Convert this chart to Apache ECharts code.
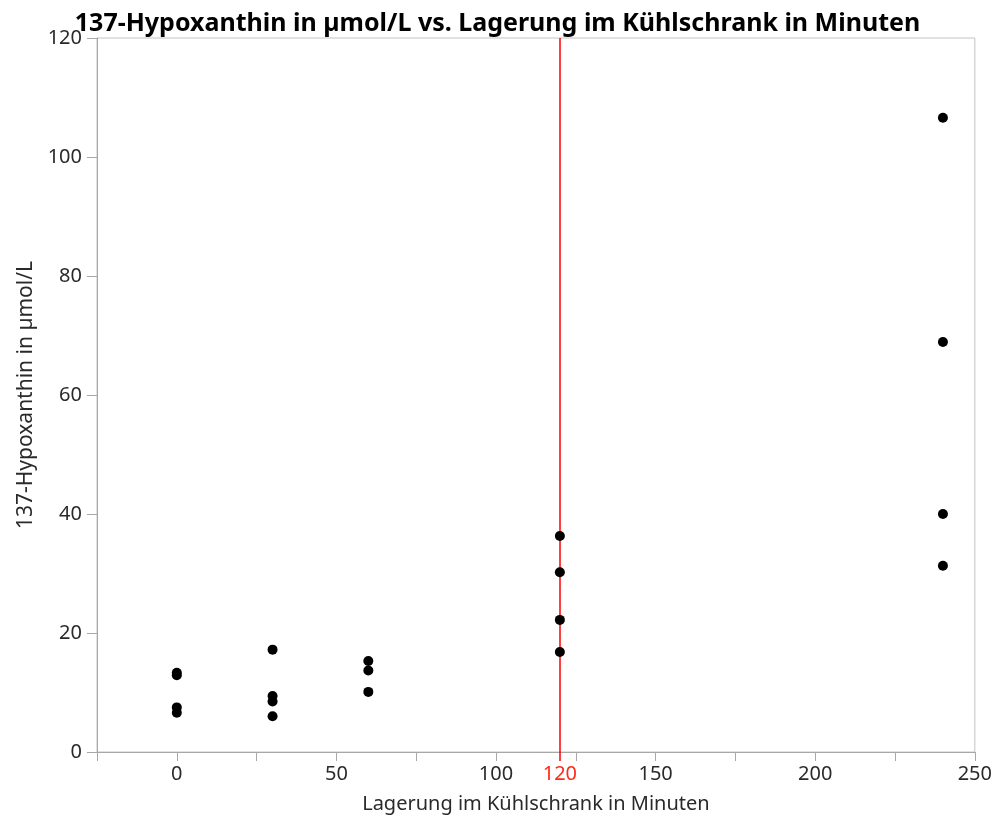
<!DOCTYPE html>
<html>
<head>
<meta charset="utf-8">
<script src="https://cdn.jsdelivr.net/npm/echarts@6/dist/echarts.min.js"></script>
<style>
  html, body { margin: 0; padding: 0; background: #fff; }
  #chart { width: 995px; height: 819px; }
</style>
</head>
<body>
<div id="chart"></div>
<script>
// Storage time in the fridge (minutes) and measured hypoxanthine (µmol/L)
const storageMinutes = [0, 0, 0, 0, 30, 30, 30, 30, 60, 60, 60, 120, 120, 120, 120, 240, 240, 240, 240];
const hypoxanthine   = [13.3, 12.9, 7.5, 6.6, 17.2, 9.4, 8.5, 6.0, 15.3, 13.7, 10.1, 36.3, 30.2, 22.2, 16.8, 106.6, 68.9, 40.0, 31.3];

const xTickValues  = [-25, 0, 25, 50, 75, 100, 125, 150, 175, 200, 225, 250];
const xLabelValues = [0, 50, 100, 150, 200, 250];
const refMinute    = 120;

const titleText = '137-Hypoxanthin in µmol/L vs. Lagerung im Kühlschrank in Minuten';
const xName = 'Lagerung im Kühlschrank in Minuten';
const yName = '137-Hypoxanthin in µmol/L';

const points = storageMinutes.map((m, i) => [m, hypoxanthine[i]]);

const font = 'Noto Sans';
const labelColor = '#2a2a2a';
const axisColor = '#a8a8a8';

const chart = echarts.init(document.getElementById('chart'), null, { renderer: 'canvas' });
chart.setOption({
  animation: false,
  backgroundColor: '#fff',
  title: {
    text: titleText,
    left: 'center',
    top: 6,
    textStyle: { fontFamily: font, fontWeight: 'bold', fontSize: 25, color: '#000' }
  },
  grid: {
    left: 97, right: 16, top: 38, bottom: 67,
    show: true, borderColor: '#c4c4c4', borderWidth: 1, backgroundColor: 'transparent'
  },
  xAxis: [{
    type: 'value',
    min: -25, max: 250,
    name: xName,
    nameLocation: 'middle',
    nameGap: 42,
    nameTextStyle: { fontFamily: font, fontSize: 20, color: labelColor },
    axisLine: { show: true, onZero: false, lineStyle: { color: axisColor, width: 1 } },
    axisTick: { show: true, customValues: xTickValues, length: 9, lineStyle: { color: axisColor } },
    axisLabel: { customValues: xLabelValues, margin: 12, fontFamily: font, fontSize: 20, color: labelColor },
    splitLine: { show: false }
  }, {
    // reference time marker on the axis
    type: 'value',
    position: 'bottom',
    min: -25, max: 250,
    axisLine: { show: false },
    axisTick: { show: true, customValues: [refMinute], length: 9, lineStyle: { color: '#ff0000', width: 1.5 } },
    axisLabel: { customValues: [refMinute], margin: 12, fontFamily: font, fontSize: 20, color: '#ff2a1a' },
    splitLine: { show: false }
  }],
  yAxis: {
    type: 'value',
    min: 0, max: 120, interval: 20,
    name: yName,
    nameLocation: 'middle',
    nameGap: 56,
    nameTextStyle: { fontFamily: font, fontSize: 21, color: labelColor },
    axisLine: { show: true, onZero: false, lineStyle: { color: axisColor, width: 1 } },
    axisTick: { show: true, length: 10, lineStyle: { color: axisColor } },
    axisLabel: { margin: 15, fontFamily: font, fontSize: 20, color: labelColor },
    splitLine: { show: false }
  },
  series: [{
    type: 'scatter',
    xAxisIndex: 0,
    data: points,
    symbol: 'circle',
    symbolSize: 10,
    itemStyle: { color: '#000', opacity: 1 },
    z: 5,
    markLine: {
      silent: true,
      symbol: 'none',
      label: { show: false },
      lineStyle: { color: '#ff0000', width: 1.5, type: 'solid' },
      data: [{ xAxis: refMinute }],
      z: 3
    }
  }]
});
</script>
</body>
</html>
